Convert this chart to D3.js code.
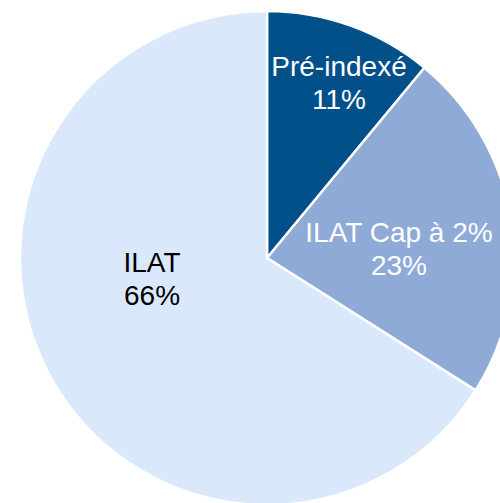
<!DOCTYPE html>
<html><head><meta charset="utf-8">
<script src="https://cdn.jsdelivr.net/npm/d3@7"></script>
<style>html,body{margin:0;padding:0;background:#fff;overflow:hidden}</style>
</head><body>
<svg id="chart" width="500" height="503"></svg>
<script>
const categories = ["Pré-indexé", "ILAT Cap à 2%", "ILAT"];
const values = [11, 23, 66];
const percentLabels = ["11%", "23%", "66%"];
const colors = ["#02508A", "#8FAAD6", "#DAE8FC"];
const textColors = ["#ffffff", "#ffffff", "#000000"];

const svg = d3.select("#chart");
const cx = 267, cy = 258, R = 247;
const g = svg.append("g").attr("transform", `translate(${cx},${cy})`);

const pie = d3.pie().sort(null).value(d => d);
const arcs = pie(values);
const arc = d3.arc().innerRadius(0).outerRadius(R);

g.selectAll("path").data(arcs).join("path")
  .attr("d", arc)
  .attr("fill", (d, i) => colors[i])
  .attr("stroke", "#ffffff")
  .attr("stroke-width", 2.5)
  .attr("stroke-linejoin", "round");

// label offsets relative to pie center (layout, not data)
const labelPos = [[72, -182], [132, -16], [-115, 14]];
const lineH = 33;
labelPos.forEach((p, i) => {
  const t = g.append("text")
    .attr("text-anchor", "middle")
    .attr("font-family", "'Liberation Sans', Arial, sans-serif")
    .attr("font-size", 28)
    .attr("fill", textColors[i]);
  t.append("tspan").attr("x", p[0]).attr("y", p[1]).text(categories[i]);
  t.append("tspan").attr("x", p[0]).attr("y", p[1] + lineH).text(percentLabels[i]);
});
</script>
</body></html>
